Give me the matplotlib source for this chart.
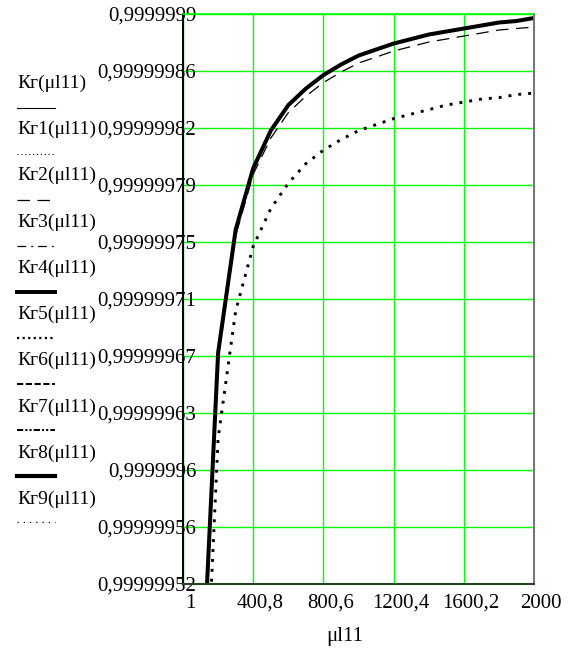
import matplotlib
matplotlib.use("Agg")
import matplotlib.pyplot as plt
import matplotlib.transforms as mtransforms
import numpy as np

plt.rcParams['font.family'] = ['Liberation Serif', 'DejaVu Serif']

# values
mu = [101, 201, 301, 401, 501, 601, 701, 801, 901, 1001,
      1101, 1201, 1301, 1401, 1501, 1601, 1701, 1801, 1901, 2000]

# solid curves (Kг, Kг4, Kг8 drawn on top of each other)
kg_solid = [0.99999943, 0.999999674, 0.999999756, 0.999999797, 0.999999822,
            0.999999839, 0.99999985, 0.999999859, 0.999999866, 0.999999872,
            0.999999876, 0.99999988, 0.999999883, 0.999999886, 0.999999888,
            0.99999989, 0.999999892, 0.999999894, 0.999999895, 0.999999897]

# long dashed curve (Kг2)
kg_dash = [0.999999426, 0.99999967, 0.999999752, 0.999999793, 0.999999817,
           0.999999834, 0.999999845, 0.999999854, 0.999999861, 0.999999867,
           0.999999871, 0.999999875, 0.999999878, 0.999999881, 0.999999883,
           0.999999885, 0.999999887, 0.999999889, 0.99999989, 0.999999891]

# dotted curve (Kг5)
kg_dot = [0.999999363, 0.999999617, 0.999999702, 0.999999745, 0.99999977,
          0.999999787, 0.9999998, 0.999999809, 0.999999816, 0.999999822,
          0.999999826, 0.99999983, 0.999999833, 0.999999836, 0.999999839,
          0.999999841, 0.999999843, 0.999999844, 0.999999846, 0.999999847]

x_ticks = [1, 400.8, 800.6, 1200.4, 1600.2, 2000]
x_labels = ['1', '400,8', '800,6', '1200,4', '1600,2', '2000']
y_ticks = [0.99999952, 0.999999558, 0.999999596, 0.999999634, 0.999999672,
           0.99999971, 0.999999748, 0.999999786, 0.999999824, 0.999999862,
           0.9999999]
y_labels = ['0,99999952', '0,99999956', '0,9999996', '0,99999963', '0,99999967',
            '0,99999971', '0,99999975', '0,99999979', '0,99999982', '0,99999986',
            '0,9999999']

legend_names = ['Кг(μl11)', 'Кг1(μl11)', 'Кг2(μl11)', 'Кг3(μl11)', 'Кг4(μl11)',
                'Кг5(μl11)', 'Кг6(μl11)', 'Кг7(μl11)', 'Кг8(μl11)', 'Кг9(μl11)']
legend_styles = [
    dict(ls='-', lw=0.8),
    dict(ls=(0, (1, 2.5)), lw=0.8),
    dict(ls=(0, (10, 6)), lw=0.9),
    dict(ls=(0, (7, 4, 1.5, 4)), lw=0.9),
    dict(ls='-', lw=2.8),
    dict(ls=(0, (1, 1.5)), lw=1.6),
    dict(ls=(0, (3, 1.2)), lw=1.5),
    dict(ls=(0, (3, 1, 1, 1, 1, 1)), lw=1.5),
    dict(ls='-', lw=3.0),
    dict(ls=(0, (1, 4)), lw=0.9),
]

W, H = 572, 650
fig = plt.figure(figsize=(W / 100, H / 100), dpi=100)
ax = fig.add_axes([183 / W, 1 - 584 / H, 351 / W, 570.5 / H])

ax.plot(mu, kg_dot, color='black', ls=(0, (1, 2.4)), lw=2.1, dash_capstyle='butt')
ax.plot(mu, kg_dash, color='black', ls=(0, (10, 6)), lw=0.9)
ax.plot(mu, kg_solid, color='black', ls='-', lw=0.8)
ax.plot(mu, kg_solid, color='black', ls='-', lw=2.9)

ax.set_xlim(1, 2000)
ax.set_ylim(0.99999952, 0.9999999)
ax.set_xticks(x_ticks)
ax.set_xticklabels(x_labels)
ax.set_yticks(y_ticks)
ax.set_yticklabels(y_labels)
ax.grid(True, color='#00ff00', lw=1.0)
ax.set_axisbelow(True)

ax.tick_params(axis='y', length=0, pad=-9.5, labelsize=15)
ax.tick_params(axis='x', length=0, pad=7, labelsize=15)
shift = mtransforms.ScaledTranslation(7 / 100, 0, fig.dpi_scale_trans)
for lab in ax.get_xticklabels():
    lab.set_transform(lab.get_transform() + shift)

ax.set_xlabel('μl11', fontsize=15)
ax.xaxis.set_label_coords((345 - 183) / 351, -(637 - 584) / 570.5)
ax.xaxis.label.set_va('center')

ax.spines['left'].set_color('black')
ax.spines['left'].set_linewidth(1.5)
ax.spines['bottom'].set_color('#224422')
ax.spines['bottom'].set_linewidth(1.5)
ax.spines['right'].set_color('#777777')
ax.spines['right'].set_linewidth(1.5)
ax.spines['top'].set_color('#00ff00')
ax.spines['top'].set_linewidth(1.2)

# left-hand legend in pixel coordinates
leg = fig.add_axes([0, 0, 1, 1], facecolor='none')
leg.set_xlim(0, W)
leg.set_ylim(H, 0)
leg.axis('off')
for i, (name, st) in enumerate(zip(legend_names, legend_styles)):
    ty = 83 + 46.3 * i
    leg.text(17, ty, name, fontsize=14, va='center', ha='left')
    ly = 108 + 46 * i
    leg.plot([17, 55], [ly, ly], color='black', dash_capstyle='butt', **st)

fig.savefig('out.png', dpi=100)
